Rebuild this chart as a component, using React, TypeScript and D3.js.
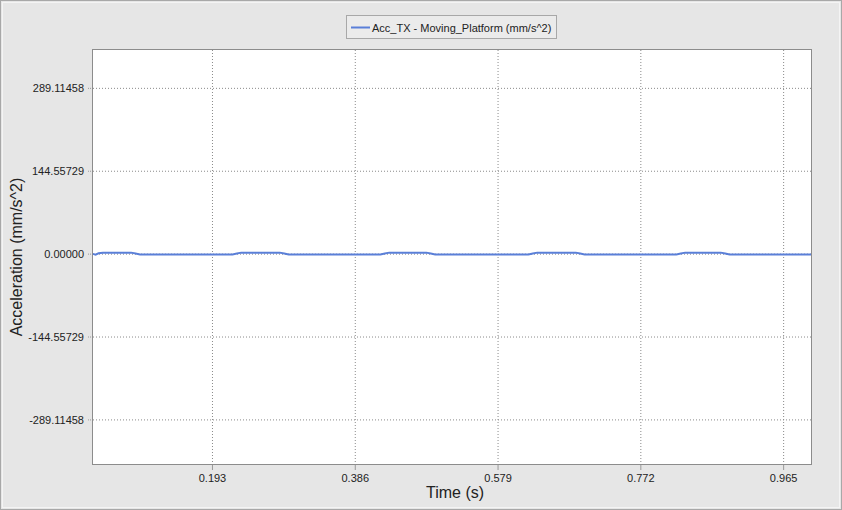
import React from "react";
import * as d3 from "d3";

const seriesName = "Acc_TX - Moving_Platform (mm/s^2)";
const timeValues = [
  0.0315, 0.035, 0.039, 0.045, 0.083, 0.089, 0.095,
  0.220, 0.226, 0.232, 0.284, 0.290, 0.296,
  0.420, 0.426, 0.432, 0.482, 0.488, 0.494,
  0.620, 0.626, 0.632, 0.684, 0.690, 0.696,
  0.820, 0.826, 0.832, 0.880, 0.886, 0.892, 1.002,
];
const accValues = [
  0.5, -0.8, 1.5, 2.6, 2.6, 1.0, -0.6,
  -0.6, 1.0, 2.6, 2.6, 1.0, -0.6,
  -0.6, 1.0, 2.6, 2.6, 1.0, -0.6,
  -0.6, 1.0, 2.6, 2.6, 1.0, -0.6,
  -0.6, 1.0, 2.6, 2.6, 1.0, -0.6, -0.6,
];
const xTicks = [0.193, 0.386, 0.579, 0.772, 0.965];
const yTicks = [289.11458, 144.55729, 0, -144.55729, -289.11458];
const xDomain = [0.0315, 1.002];
const yDomain = [-366, 356];

export default function App() {
  const W = 842, H = 510;
  const left = 93, right = 811, top = 50, bottom = 464;
  const x = d3.scaleLinear().domain(xDomain).range([left, right]);
  const y = d3.scaleLinear().domain(yDomain).range([bottom, top]);
  const pts = timeValues.map((t, i) => [t, accValues[i]] as [number, number]);
  const line = d3.line<[number, number]>().x(d => x(d[0])).y(d => y(d[1]));
  const font = "'Liberation Sans', Arial, sans-serif";
  return (
    <svg width={W} height={H} style={{ position: "absolute", left: 0, top: 0, display: "block" }} fontFamily={font}>
      <rect x={0} y={0} width={W} height={H} fill="#e6e6e6" />
      <rect x={0.5} y={0.5} width={W - 1} height={H - 1} fill="none" stroke="#a8a8a8" />
      <rect x={2.5} y={2.5} width={W - 5} height={H - 5} fill="none" stroke="#f4f4f4" />
      <rect x={left} y={top} width={right - left} height={bottom - top} fill="#ffffff" />
      {xTicks.map(t => (
        <g key={"x" + t}>
          <line x1={x(t)} x2={x(t)} y1={top} y2={bottom} stroke="#8a8a8a" strokeDasharray="1,2" />
          <line x1={x(t)} x2={x(t)} y1={bottom} y2={bottom + 6} stroke="#9a9a9a" />
          <text x={x(t)} y={482} fontSize={11} textAnchor="middle" fill="#222">{t.toFixed(3)}</text>
        </g>
      ))}
      {yTicks.map(v => (
        <g key={"y" + v}>
          <line x1={left} x2={right} y1={y(v)} y2={y(v)} stroke="#8a8a8a" strokeDasharray="1,2" />
          <line x1={left - 5} x2={left} y1={y(v)} y2={y(v)} stroke="#9a9a9a" strokeDasharray="1,1" />
          <text x={84} y={y(v) + 4} fontSize={11} textAnchor="end" fill="#222">{v.toFixed(5)}</text>
        </g>
      ))}
      <rect x={left - 0.5} y={top - 0.5} width={right - left + 1} height={bottom - top + 1} fill="none" stroke="#8c8c8c" />
      <path d={line(pts) || ""} fill="none" stroke="#5a7fd8" strokeWidth={2} />
      <g>
        <rect x={346.5} y={15.5} width={210} height={23} fill="#ebebeb" stroke="#a8a8a8" />
        <line x1={351} x2={370} y1={27.5} y2={27.5} stroke="#5a7fd8" strokeWidth={2} />
        <text x={372} y={31.5} fontSize={11} fill="#222">{seriesName}</text>
      </g>
      <text x={455} y={498} fontSize={16} textAnchor="middle" fill="#222">Time (s)</text>
      <text transform={`translate(22,${(top + bottom) / 2}) rotate(-90)`} fontSize={16} textAnchor="middle" fill="#222">Acceleration (mm/s^2)</text>
    </svg>
  );
}
